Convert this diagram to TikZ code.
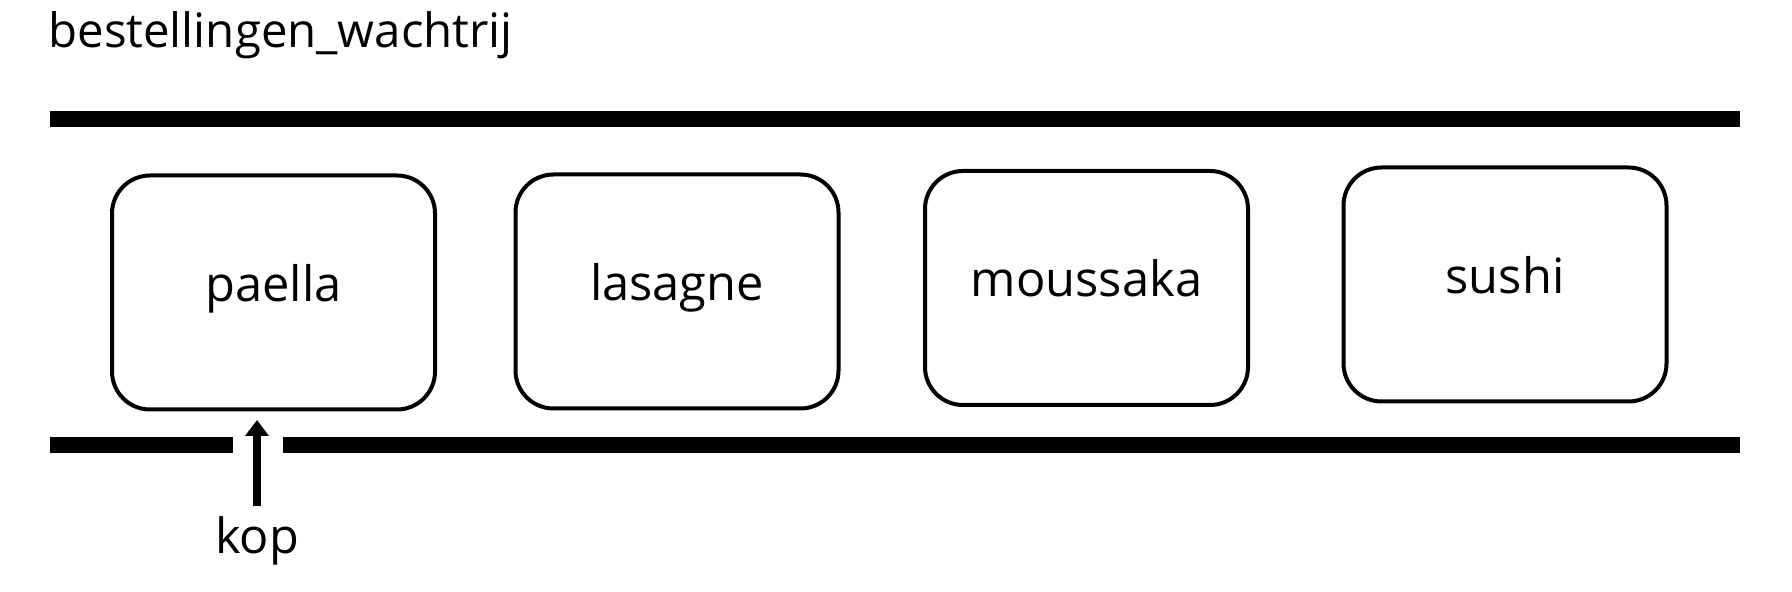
\documentclass[tikz,border=0pt]{standalone}
\usepackage{fontspec}
\setmainfont{Open Sans}
\usetikzlibrary{arrows.meta}
\tikzset{
	dish/.style={draw,line width=2pt,rounded corners=19pt,minimum width=161.5pt,minimum height=117pt,
		text height=12pt,text depth=3pt,font=\fontsize{24.4pt}{29pt}\selectfont},
	bar/.style={line width=8pt},
	label/.style={font=\fontsize{24.3pt}{29pt}\selectfont,inner sep=0pt}
}
\begin{document}
\begin{tikzpicture}[x=0.5pt,y=-0.5pt]
	\useasboundingbox (0,0) rectangle (1792,592);
	\node[label,font=\fontsize{23.7pt}{28pt}\selectfont,anchor=base west] (title) at (48,48) {bestellingen\_wachtrij};
	\draw[bar] (50,119) -- (1740,119);
	\draw[bar] (50,445) -- (233,445);
	\draw[bar] (283,445) -- (1740,445);
	\node[dish] (paella) at (273.5,292.5) {paella};
	\node[dish] (lasagne) at (677,291.5) {lasagne};
	\node[dish] (moussaka) at (1086.5,288) {moussaka};
	\node[dish] (sushi) at (1505,284.5) {sushi};
	\node[label,anchor=base] (kop) at (257,553) {kop};
	\coordinate (tail) at ([yshift=5pt]kop.north);
	\draw[line width=4pt,-{Triangle[width=11.5pt,length=8pt]},shorten >=4.25pt] (tail) -- (tail |- paella.south);
\end{tikzpicture}
\end{document}
